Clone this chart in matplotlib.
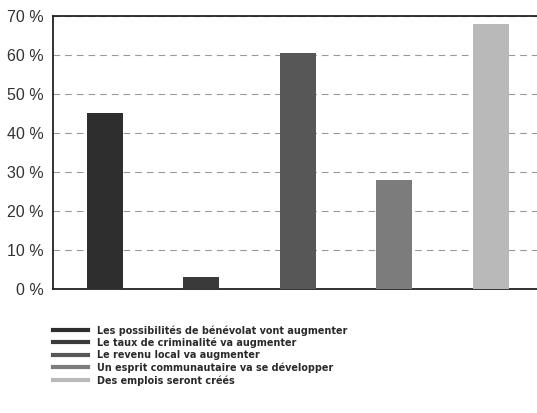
import matplotlib.pyplot as plt
from matplotlib.lines import Line2D

# data
labels = [
    "Les possibilités de bénévolat vont augmenter",
    "Le taux de criminalité va augmenter",
    "Le revenu local va augmenter",
    "Un esprit communautaire va se développer",
    "Des emplois seront créés",
]
values = [45, 3, 60.5, 28, 68]
colors = ["#2e2e2e", "#3a3a3a", "#575757", "#7c7c7c", "#b9b9b9"]
yticks = [0, 10, 20, 30, 40, 50, 60, 70]
ytick_labels = ["0 %", "10 %", "20 %", "30 %", "40 %", "50 %", "60 %", "70 %"]

fig = plt.figure(figsize=(5.37, 4.13), dpi=100)
ax = fig.add_axes([0.0987, 0.300, 0.916, 0.662])

x = list(range(len(values)))
ax.bar(x, values, width=0.373, color=colors, zorder=3)

ax.set_xlim(-0.539, 4.564)
ax.set_ylim(0, 70)
ax.set_xticks([])
ax.set_yticks(yticks)
ax.set_yticklabels(ytick_labels, fontsize=11.5, color="#333333",
                   family=["Liberation Sans", "DejaVu Sans"])
ax.tick_params(axis="y", length=0, pad=7)

ax.set_axisbelow(True)
ax.yaxis.grid(True, color="#999999", linewidth=0.8, linestyle=(0, (6, 4.5)))

for side in ["left", "bottom", "top"]:
    ax.spines[side].set_color("#222222")
    ax.spines[side].set_linewidth(1.3)
ax.spines["right"].set_visible(False)

# legend as coloured line swatches under the plot
handles = [Line2D([0], [0], color=c, linewidth=3) for c in colors]
fig.legend(handles, labels, loc="upper left", bbox_to_anchor=(0.088, 0.226),
           frameon=False, handlelength=3.3, handletextpad=0.8,
           labelspacing=0.2, borderpad=0,
           prop={"family": ["DejaVu Sans"], "stretch": "condensed",
                 "weight": "bold", "size": 7.75})
for t in fig.legends[0].get_texts():
    t.set_color("#2a2a2a")

fig.savefig("out.png", dpi=100)
